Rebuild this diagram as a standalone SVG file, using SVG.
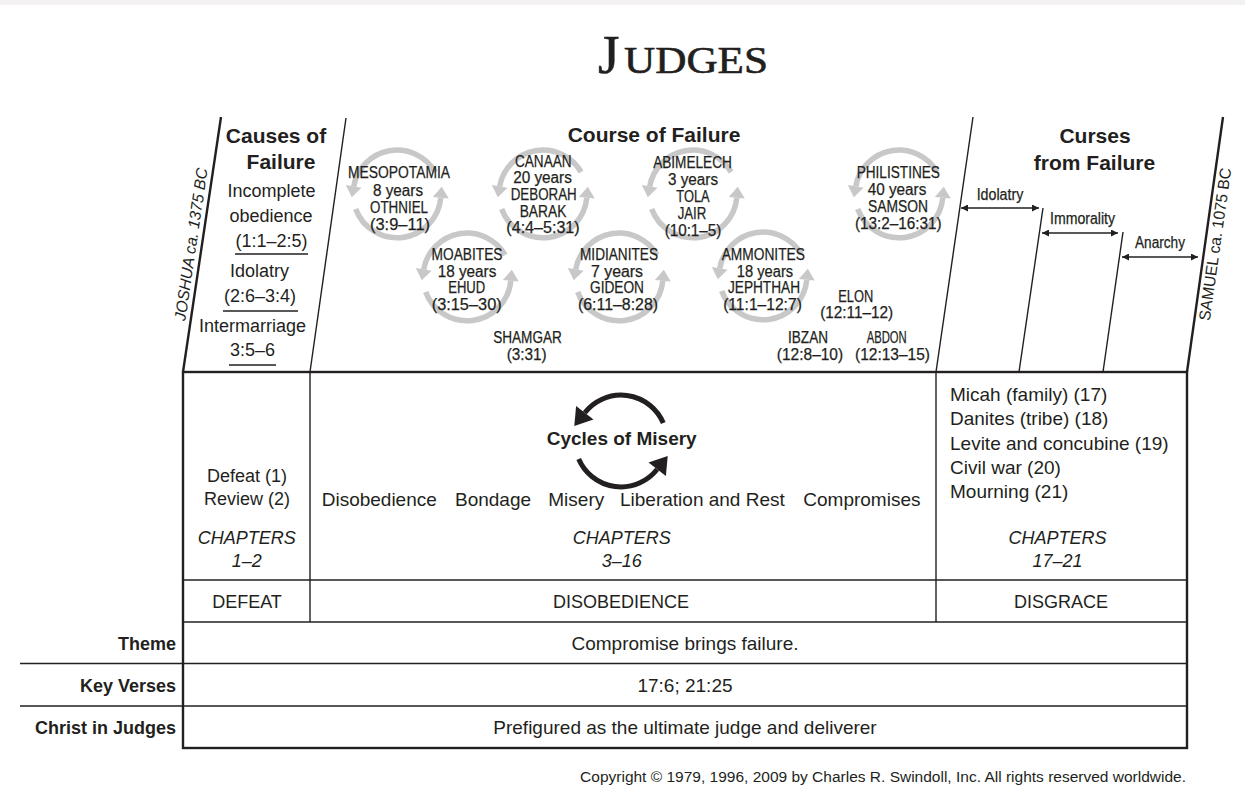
<svg xmlns="http://www.w3.org/2000/svg" xmlns:xlink="http://www.w3.org/1999/xlink" width="1245" height="811" viewBox="0 0 1245 811">
<defs>
<style>
text{font-family:"Liberation Sans",Arial,sans-serif;fill:#231f20}
.m{text-anchor:middle}
.e{text-anchor:end}
.b{font-weight:bold}
.i{font-style:italic}
.h{font-size:21px;font-weight:bold;text-anchor:middle}
.f18{font-size:18px}
.f19{font-size:19px}
.cd{font-size:16px;text-anchor:middle;stroke:#231f20;stroke-width:0.25}
.ln{stroke:#231f20;fill:none;stroke-width:1.4}
.bd{stroke:#231f20;fill:none;stroke-width:2.4}
.gc{stroke:#c8c8c8;stroke-width:5.5;fill:none}
.ttl{font-family:"Liberation Serif","Times New Roman",serif;fill:#231f20;stroke:#231f20;stroke-width:0.6}
</style>
<g id="gcyc">
 <path class="gc" d="M38.1 -22 A44 44 0 0 0 -43.3 -7.6"/>
 <polygon fill="#c8c8c8" points="-35.4,-6.2 -51.2,-9 -45.2,3.2"/>
 <path class="gc" d="M-41.3 15 A44 44 0 0 0 43.8 3.8"/>
 <polygon fill="#c8c8c8" points="51.8,4.5 35.8,3.1 44.8,-7.2"/>
</g>
<g id="bhalf">
 <path d="M42.3 -18 A46 46 0 0 0 -36.2 -28.3" stroke="#231f20" stroke-width="5" fill="none"/>
 <polygon fill="#231f20" points="-27.5,-21.5 -44.9,-35.1 -46.7,-14.9"/>
</g>
<marker id="ah" viewBox="0 0 10 10" refX="10" refY="5" markerWidth="10" markerHeight="7" markerUnits="userSpaceOnUse" orient="auto-start-reverse"><path d="M0 0 L10 5 L0 10 z" fill="#231f20"/></marker>
</defs>
<rect width="1245" height="811" fill="#ffffff"/>
<rect width="1245" height="5" fill="#f3f1f1"/>

<g id="title">
 <text class="ttl" x="598" y="73" font-size="55">J</text>
 <text class="ttl" x="624" y="73" font-size="38" textLength="144" lengthAdjust="spacingAndGlyphs">UDGES</text>
</g>

<g id="frame">
 <line class="bd" x1="221" y1="117" x2="183" y2="372"/>
 <line class="ln" x1="346" y1="118" x2="310" y2="372"/>
 <line class="ln" x1="973" y1="117" x2="936" y2="372"/>
 <line class="bd" x1="1223" y1="117" x2="1187" y2="372" stroke-width="2.8"/>
 <line class="ln" x1="1043" y1="208" x2="1019" y2="372"/>
 <line class="ln" x1="1123" y1="232" x2="1103" y2="372"/>
 <rect class="bd" x="183" y="372" width="1004" height="376" stroke-width="2.6"/>
 <line class="ln" x1="310" y1="372" x2="310" y2="622"/>
 <line class="ln" x1="936" y1="372" x2="936" y2="622"/>
 <line class="ln" x1="183" y1="580" x2="1187" y2="580"/>
 <line class="ln" x1="183" y1="622" x2="1187" y2="622"/>
 <line class="ln" x1="20" y1="663.5" x2="1187" y2="663.5"/>
 <line class="ln" x1="20" y1="706" x2="1187" y2="706"/>
</g>

<g id="joshua">
 <text class="i" font-size="16" text-anchor="middle" textLength="154" lengthAdjust="spacingAndGlyphs" transform="translate(196.5 245) rotate(-81.6)">JOSHUA ca. 1375 BC</text>
</g>
<g id="samuel">
 <text font-size="16" text-anchor="middle" textLength="154" lengthAdjust="spacingAndGlyphs" transform="translate(1220.5 245) rotate(-81.9)">SAMUEL ca. 1075 BC</text>
</g>

<g id="causes">
 <text class="h" x="276" y="143">Causes of</text>
 <text class="h" x="281" y="169">Failure</text>
 <text class="f18 m" x="271.5" y="197">Incomplete</text>
 <text class="f18 m" x="271" y="222">obedience</text>
 <text class="f18 m" x="271.5" y="247">(1:1–2:5)</text>
 <line class="ln" x1="235" y1="254" x2="308" y2="254"/>
 <text class="f18 m" x="259.5" y="277">Idolatry</text>
 <text class="f18 m" x="260" y="302">(2:6–3:4)</text>
 <line class="ln" x1="223" y1="311" x2="298" y2="311"/>
 <text class="f18 m" x="252.5" y="332">Intermarriage</text>
 <text class="f18 m" x="252.5" y="356">3:5–6</text>
 <line class="ln" x1="229" y1="365" x2="276" y2="365"/>
</g>

<g id="course-header">
 <text class="h" x="654" y="142">Course of Failure</text>
</g>

<g id="mesopotamia">
 <use xlink:href="#gcyc" href="#gcyc" x="397" y="194"/>
 <text class="cd" x="399" y="178.3" textLength="102" lengthAdjust="spacingAndGlyphs">MESOPOTAMIA</text>
 <text class="cd" x="398" y="196" textLength="50" lengthAdjust="spacingAndGlyphs">8 years</text>
 <text class="cd" x="399" y="213.3" textLength="58" lengthAdjust="spacingAndGlyphs">OTHNIEL</text>
 <text class="cd" x="400" y="230" textLength="60" lengthAdjust="spacingAndGlyphs">(3:9–11)</text>
</g>
<g id="canaan">
 <use xlink:href="#gcyc" href="#gcyc" x="543" y="194"/>
 <text class="cd" x="543.3" y="166.7" textLength="56.7" lengthAdjust="spacingAndGlyphs">CANAAN</text>
 <text class="cd" x="542.5" y="183.3" textLength="58.7" lengthAdjust="spacingAndGlyphs">20 years</text>
 <text class="cd" x="543.7" y="200" textLength="66" lengthAdjust="spacingAndGlyphs">DEBORAH</text>
 <text class="cd" x="543" y="216.7" textLength="46.7" lengthAdjust="spacingAndGlyphs">BARAK</text>
 <text class="cd" x="543" y="233.3" textLength="73.3" lengthAdjust="spacingAndGlyphs">(4:4–5:31)</text>
</g>
<g id="abimelech">
 <use xlink:href="#gcyc" href="#gcyc" x="693" y="194"/>
 <text class="cd" x="692.5" y="168.3" textLength="78.7" lengthAdjust="spacingAndGlyphs">ABIMELECH</text>
 <text class="cd" x="693" y="185" textLength="50" lengthAdjust="spacingAndGlyphs">3 years</text>
 <text class="cd" x="693" y="202" textLength="33.3" lengthAdjust="spacingAndGlyphs">TOLA</text>
 <text class="cd" x="692" y="218.7" textLength="28.7" lengthAdjust="spacingAndGlyphs">JAIR</text>
 <text class="cd" x="693" y="235.5" textLength="56.7" lengthAdjust="spacingAndGlyphs">(10:1–5)</text>
</g>
<g id="philistines">
 <use xlink:href="#gcyc" href="#gcyc" x="899" y="194"/>
 <text class="cd" x="898.3" y="178.3" textLength="83.3" lengthAdjust="spacingAndGlyphs">PHILISTINES</text>
 <text class="cd" x="897" y="195" textLength="58.7" lengthAdjust="spacingAndGlyphs">40 years</text>
 <text class="cd" x="898" y="212" textLength="60" lengthAdjust="spacingAndGlyphs">SAMSON</text>
 <text class="cd" x="898.3" y="228.7" textLength="86.7" lengthAdjust="spacingAndGlyphs">(13:2–16:31)</text>
</g>
<g id="moabites">
 <use xlink:href="#gcyc" href="#gcyc" x="467" y="277"/>
 <text class="cd" x="467" y="260" textLength="71" lengthAdjust="spacingAndGlyphs">MOABITES</text>
 <text class="cd" x="467" y="276.7" textLength="58.7" lengthAdjust="spacingAndGlyphs">18 years</text>
 <text class="cd" x="466.7" y="293.3" textLength="37" lengthAdjust="spacingAndGlyphs">EHUD</text>
 <text class="cd" x="466.7" y="310" textLength="70" lengthAdjust="spacingAndGlyphs">(3:15–30)</text>
</g>
<g id="midianites">
 <use xlink:href="#gcyc" href="#gcyc" x="619" y="277"/>
 <text class="cd" x="619" y="260" textLength="78" lengthAdjust="spacingAndGlyphs">MIDIANITES</text>
 <text class="cd" x="617" y="276.7" textLength="52" lengthAdjust="spacingAndGlyphs">7 years</text>
 <text class="cd" x="617" y="293.3" textLength="54" lengthAdjust="spacingAndGlyphs">GIDEON</text>
 <text class="cd" x="618" y="310" textLength="80" lengthAdjust="spacingAndGlyphs">(6:11–8:28)</text>
</g>
<g id="ammonites">
 <use xlink:href="#gcyc" href="#gcyc" x="763" y="276"/>
 <text class="cd" x="763.3" y="260" textLength="83.3" lengthAdjust="spacingAndGlyphs">AMMONITES</text>
 <text class="cd" x="765" y="276.7" textLength="56.3" lengthAdjust="spacingAndGlyphs">18 years</text>
 <text class="cd" x="764" y="293.3" textLength="72" lengthAdjust="spacingAndGlyphs">JEPHTHAH</text>
 <text class="cd" x="762.5" y="310" textLength="78.7" lengthAdjust="spacingAndGlyphs">(11:1–12:7)</text>
</g>
<g id="shamgar">
 <text class="cd" x="527.5" y="343.3" textLength="68.7" lengthAdjust="spacingAndGlyphs">SHAMGAR</text>
 <text class="cd" x="526.7" y="360" textLength="40" lengthAdjust="spacingAndGlyphs">(3:31)</text>
</g>
<g id="elon">
 <text class="cd" x="855.8" y="301.7" textLength="35" lengthAdjust="spacingAndGlyphs">ELON</text>
 <text class="cd" x="856.7" y="318.3" textLength="73" lengthAdjust="spacingAndGlyphs">(12:11–12)</text>
</g>
<g id="ibzan">
 <text class="cd" x="808" y="343.3" textLength="40" lengthAdjust="spacingAndGlyphs">IBZAN</text>
 <text class="cd" x="810" y="360" textLength="66.3" lengthAdjust="spacingAndGlyphs">(12:8–10)</text>
</g>
<g id="abdon">
 <text class="cd" x="886.7" y="343.3" textLength="40" lengthAdjust="spacingAndGlyphs">ABDON</text>
 <text class="cd" x="892.5" y="360" textLength="75" lengthAdjust="spacingAndGlyphs">(12:13–15)</text>
</g>

<g id="curses">
 <text class="h" x="1095" y="143">Curses</text>
 <text class="h" x="1094.5" y="170">from Failure</text>
 <text class="cd" x="1000" y="200" textLength="46.7" lengthAdjust="spacingAndGlyphs">Idolatry</text>
 <text class="cd" x="1082.5" y="224" textLength="65" lengthAdjust="spacingAndGlyphs">Immorality</text>
 <text class="cd" x="1160" y="248.3" textLength="50" lengthAdjust="spacingAndGlyphs">Anarchy</text>
</g>

<g id="connectors">
 <line class="ln" x1="961" y1="208" x2="1039" y2="208" marker-start="url(#ah)" marker-end="url(#ah)"/>
 <line class="ln" x1="1042" y1="233" x2="1118" y2="233" marker-start="url(#ah)" marker-end="url(#ah)"/>
 <line class="ln" x1="1122" y1="257" x2="1198" y2="257" marker-start="url(#ah)" marker-end="url(#ah)"/>
 <g transform="translate(621 441)">
  <use xlink:href="#bhalf" href="#bhalf"/>
  <use xlink:href="#bhalf" href="#bhalf" transform="rotate(180)"/>
 </g>
</g>

<g id="defeat-col">
 <text class="f18 m" x="247" y="482">Defeat (1)</text>
 <text class="f18 m" x="247" y="505">Review (2)</text>
 <text class="f18 m i" x="246.7" y="544">CHAPTERS</text>
 <text class="f18 m i" x="246.7" y="567">1–2</text>
 <text class="f18 m" x="247" y="608">DEFEAT</text>
</g>

<g id="disobedience-col">
 <text class="f19 b m" x="621.7" y="445">Cycles of Misery</text>
 <text class="f19" x="321.7" y="506">Disobedience</text>
 <text class="f19" x="455" y="506">Bondage</text>
 <text class="f19" x="548.3" y="506">Misery</text>
 <text class="f19" x="620" y="506">Liberation and Rest</text>
 <text class="f19" x="803.3" y="506">Compromises</text>
 <text class="f18 m i" x="621.7" y="544">CHAPTERS</text>
 <text class="f18 m i" x="621.7" y="567">3–16</text>
 <text class="f18 m" x="621" y="608">DISOBEDIENCE</text>
</g>

<g id="disgrace-col">
 <text class="f19" x="950" y="401">Micah (family) (17)</text>
 <text class="f19" x="950" y="425">Danites (tribe) (18)</text>
 <text class="f19" x="950" y="449.5">Levite and concubine (19)</text>
 <text class="f19" x="950" y="474">Civil war (20)</text>
 <text class="f19" x="950" y="498">Mourning (21)</text>
 <text class="f18 m i" x="1057.5" y="544">CHAPTERS</text>
 <text class="f18 m i" x="1057.5" y="567">17–21</text>
 <text class="f18 m" x="1061" y="608">DISGRACE</text>
</g>

<g id="theme-row">
 <text class="f18 b e" x="176" y="649.5">Theme</text>
 <text class="f19 m" x="685" y="649.5">Compromise brings failure.</text>
</g>
<g id="keyverses-row">
 <text class="f18 b e" x="176" y="691.5">Key Verses</text>
 <text class="f19 m" x="685" y="691.5">17:6; 21:25</text>
</g>
<g id="christ-row">
 <text class="f18 b e" x="176" y="733.5">Christ in Judges</text>
 <text class="f19 m" x="685" y="733.5">Prefigured as the ultimate judge and deliverer</text>
</g>

<g id="copyright">
 <text class="e" font-size="15.5" x="1186" y="782">Copyright © 1979, 1996, 2009 by Charles R. Swindoll, Inc. All rights reserved worldwide.</text>
</g>
</svg>
